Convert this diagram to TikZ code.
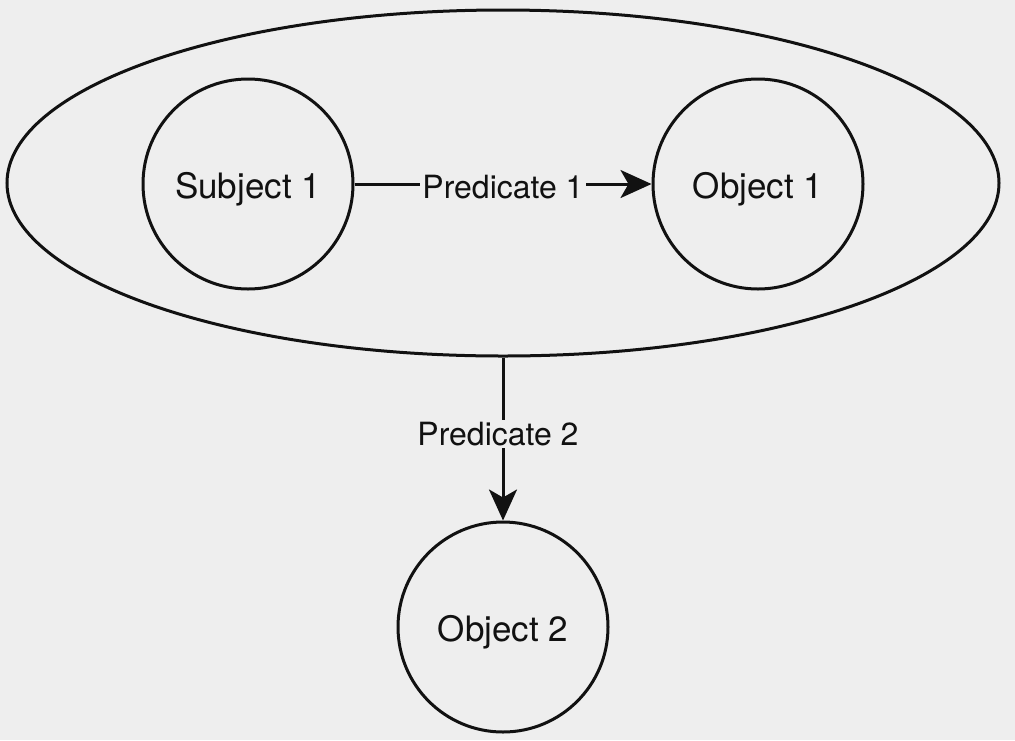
\documentclass[tikz,border=0pt]{standalone}
\usepackage{fontspec}
\setmainfont{TeX Gyre Heros}
\usetikzlibrary{arrows.meta,shapes.geometric}
\definecolor{bg}{HTML}{EEEEEE}
\definecolor{ink}{HTML}{111111}
\begin{document}
\begin{tikzpicture}[x=1pt,y=-1pt,
  res/.style={circle,draw=ink,line width=3pt,minimum size=210pt,inner sep=0pt,font=\fontsize{35}{40}\selectfont,text=ink,text height=29.4pt,text depth=0pt},
  grp/.style={ellipse,draw=ink,line width=3pt,minimum width=992pt,minimum height=346pt,inner sep=0pt},
  conn/.style={draw=ink,line width=3pt,-{Stealth[length=31pt,width=28pt,inset=8pt]}},
  lbl/.style={fill=bg,inner sep=2pt,font=\fontsize{32}{36}\selectfont,text=ink}]
\fill[bg] (0,0) rectangle (1015,740);
\useasboundingbox (0,0) rectangle (1015,740);
\node[grp] (g) at (503,183) {};
\node[res] (s1) at (248,184) {Subject 1};
\node[res] (o1) at (758,184) {Object 1};
\node[res] (o2) at (503,627) {Object 2};
\draw[conn] (s1) -- node[lbl,yshift=-3pt] {Predicate 1} (o1);
\draw[conn] (g.south) -- node[lbl,pos=0.47,xshift=-5pt] {Predicate 2} (o2);
\end{tikzpicture}
\end{document}
